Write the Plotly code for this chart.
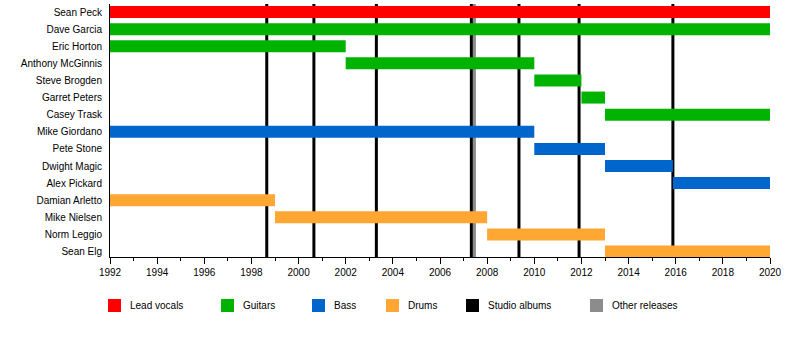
import plotly.graph_objects as go

members = ["Sean Peck", "Dave Garcia", "Eric Horton", "Anthony McGinnis", "Steve Brogden",
           "Garret Peters", "Casey Trask", "Mike Giordano", "Pete Stone", "Dwight Magic",
           "Alex Pickard", "Damian Arletto", "Mike Nielsen", "Norm Leggio", "Sean Elg"]
roles = ["Lead vocals", "Guitars", "Guitars", "Guitars", "Guitars",
         "Guitars", "Guitars", "Bass", "Bass", "Bass",
         "Bass", "Drums", "Drums", "Drums", "Drums"]
starts = [1992, 1992, 1992, 2002, 2010, 2012, 2013, 1992, 2010, 2013, 2015.88, 1992, 1999, 2008, 2013]
ends = [2020, 2020, 2002, 2010, 2012, 2013, 2020, 2010, 2013, 2015.88, 2020, 1999, 2008, 2013, 2020]

studio_albums = [1998.65, 2000.65, 2003.3, 2007.33, 2009.35, 2011.9, 2015.88]
other_releases = [2007.46]

role_names = ["Lead vocals", "Guitars", "Bass", "Drums"]
role_colors = {"Lead vocals": "#FF0000", "Guitars": "#00B300", "Bass": "#0066CC", "Drums": "#FFA633"}
legend_labels = ["Lead vocals", "Guitars", "Bass", "Drums", "Studio albums", "Other releases"]
legend_colors = ["#FF0000", "#00B300", "#0066CC", "#FFA633", "#000000", "#8C8C8C"]
legend_px = [108, 221, 312, 386, 466, 590]

FONT = "Liberation Sans, Arial"
FS = 10
W, H = 800, 347
L, R, T, B = 110, 30, 4, 90
PW, PH = W - L - R, H - T - B

fig = go.Figure()
for role in role_names:
    idx = [i for i, r in enumerate(roles) if r == role]
    fig.add_trace(go.Bar(
        orientation="h",
        y=[members[i] for i in idx],
        x=[ends[i] - starts[i] for i in idx],
        base=[starts[i] for i in idx],
        marker=dict(color=role_colors[role], line=dict(width=0)),
        width=0.7,
        showlegend=False,
        hoverinfo="skip",
    ))

shapes = []
for x in other_releases:
    shapes.append(dict(type="line", xref="x", yref="paper", x0=x, x1=x, y0=0, y1=1,
                       line=dict(color="#8C8C8C", width=3), layer="below"))
for x in studio_albums:
    shapes.append(dict(type="line", xref="x", yref="paper", x0=x, x1=x, y0=0, y1=1,
                       line=dict(color="#000000", width=3), layer="below"))

annotations = []
sq_top, sq_bot = 299, 312
for lab, col, px in zip(legend_labels, legend_colors, legend_px):
    x0 = (px - L) / PW
    x1 = (px + 13 - L) / PW
    y0 = (T + PH - sq_bot) / PH
    y1 = (T + PH - sq_top) / PH
    shapes.append(dict(type="rect", xref="paper", yref="paper", x0=x0, x1=x1, y0=y0, y1=y1,
                       fillcolor=col, line=dict(width=0)))
    annotations.append(dict(xref="paper", yref="paper", x=(px + 22 - L) / PW,
                            y=(T + PH - (sq_top + sq_bot) / 2) / PH,
                            text=lab, showarrow=False, xanchor="left", yanchor="middle",
                            xshift=-2,
                            font=dict(family=FONT, size=FS, color="#000000")))

fig.update_layout(
    width=W, height=H,
    margin=dict(l=L, r=R, t=T, b=B),
    paper_bgcolor="white", plot_bgcolor="white",
    barmode="overlay",
    shapes=shapes, annotations=annotations,
    font=dict(family=FONT, size=FS, color="#000000"),
    xaxis=dict(range=[1992, 2020], dtick=2, tick0=1992, ticks="outside", ticklen=6,
               tickcolor="black", showline=True, linecolor="black", linewidth=1,
               showgrid=False, zeroline=False,
               minor=dict(dtick=1, ticks="outside", ticklen=3, tickcolor="black", showgrid=False),
               tickfont=dict(family=FONT, size=FS)),
    yaxis=dict(type="category", categoryorder="array", categoryarray=members,
               range=[14.32, -0.47], showline=True, linecolor="black", linewidth=1,
               showgrid=False, zeroline=False, ticks="", ticklabelstandoff=5,
               tickfont=dict(family=FONT, size=FS)),
)

fig.write_html("out.html")
